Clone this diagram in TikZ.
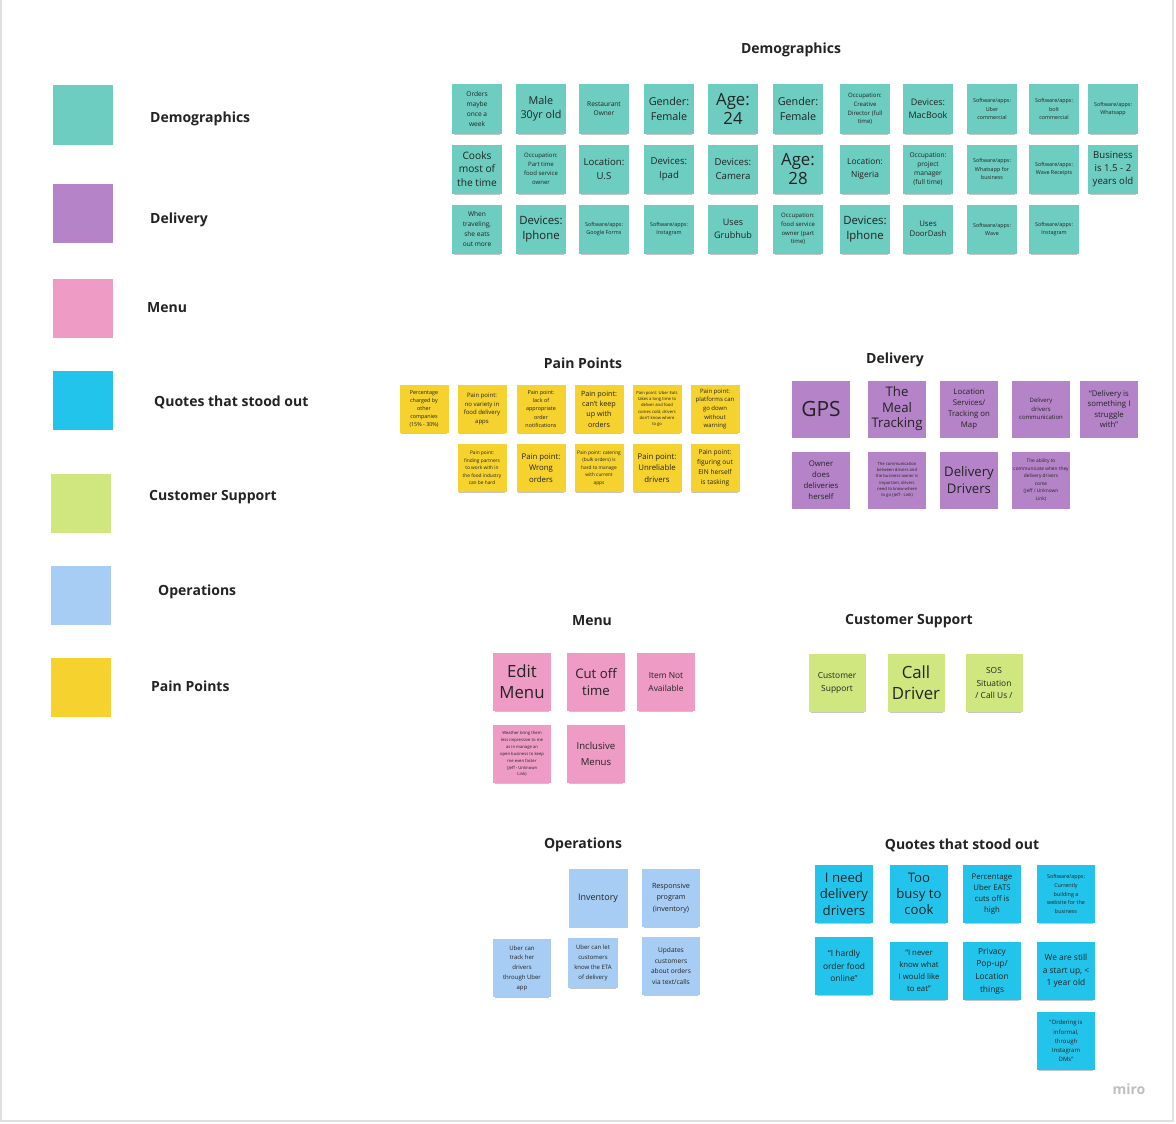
\documentclass[tikz,border=0pt]{standalone}
\usepackage{fontspec}
\setmainfont{Open Sans}
\usetikzlibrary{shadows}
\definecolor{demoC}{RGB}{108,205,192}
\definecolor{delivC}{RGB}{181,132,200}
\definecolor{menuC}{RGB}{238,155,197}
\definecolor{quoteC}{RGB}{35,196,235}
\definecolor{suppC}{RGB}{208,231,127}
\definecolor{opsC}{RGB}{168,205,244}
\definecolor{painC}{RGB}{246,210,46}
\definecolor{txtC}{RGB}{35,35,35}
\tikzset{
  fs/.style 2 args={/utils/exec={\pgfmathsetmacro\fsA{#1*1.2}\pgfmathsetmacro\fsB{#2*1.15}},
    font=\fontsize{\fsA}{\fsB}\selectfont},
  sticky/.style={draw=none, align=center, inner sep=1pt, text=txtC,
    general shadow={fill=black!70, opacity=0.32, shadow yshift=-3pt, shadow scale=0.93}},
  demo/.style={sticky, fill=demoC, minimum width=50pt, minimum height=49pt},
  pain/.style={sticky, fill=painC, minimum width=49pt, minimum height=48pt},
  deliv/.style={sticky, fill=delivC, minimum width=58pt, minimum height=57pt},
  menu/.style={sticky, fill=menuC, minimum width=58pt, minimum height=58pt},
  supp/.style={sticky, fill=suppC, minimum width=57pt, minimum height=58pt},
  ops/.style={sticky, fill=opsC, minimum width=58pt, minimum height=58pt},
  quote/.style={sticky, fill=quoteC, minimum width=58pt, minimum height=58pt},
  legsq/.style={draw=none, minimum width=60pt, minimum height=59pt,
    general shadow={fill=black!70, opacity=0.32, shadow yshift=-3pt, shadow scale=0.93}},
  leglab/.style={anchor=west, font=\fontsize{14}{16}\selectfont\bfseries, text=txtC, inner sep=0pt},
  sectitle/.style={font=\fontsize{14}{16}\selectfont\bfseries, text=txtC, inner sep=0pt},
}
\begin{document}
\begin{tikzpicture}[x=1pt,y=-1pt]
\useasboundingbox (0,0) rectangle (1176,1124);
\fill[white] (0,0) rectangle (1176,1124);
\draw[black!12, line width=1.5pt] (1,-2) -- (1,1121) -- (1173,1121) -- (1173,-2);

% Legend
\node[legsq, fill=demoC] (ld) at (83,115) {};
\node[leglab] (ldl) at (150,119) {Demographics};
\node[legsq, fill=delivC] (lv) at (83,213) {};
\node[leglab] (lvl) at (150,220) {Delivery};
\node[legsq, fill=menuC] (lm) at (83,308) {};
\node[leglab] (lml) at (147,308) {Menu};
\node[legsq, fill=quoteC] (lq) at (83,400) {};
\node[leglab] (lql) at (154,402) {Quotes that stood out};
\node[legsq, fill=suppC] (ls) at (81,503) {};
\node[leglab] (lsl) at (149,497) {Customer Support};
\node[legsq, fill=opsC] (lo) at (81,595) {};
\node[leglab] (lol) at (158,592) {Operations};
\node[legsq, fill=painC] (lp) at (81,687) {};
\node[leglab] (lpl) at (151,686) {Pain Points};

% Section titles
\node[sectitle] (tdemo) at (791,50) {Demographics};
\node[sectitle] (tpain) at (583,363) {Pain Points};
\node[sectitle] (tdeliv) at (895,360) {Delivery};
\node[sectitle] (tmenu) at (592,621) {Menu};
\node[sectitle] (tsupp) at (909,621) {Customer Support};
\node[sectitle] (tops) at (583,845) {Operations};
\node[sectitle] (tquote) at (962,845) {Quotes that stood out};

% Demographics row 1
\node[demo, fs={5.5}{8.5}] (d11) at (477,109) {Orders\\maybe\\once a\\week};
\node[demo, fs={9}{12}] (d12) at (541,109) {Male\\30yr old};
\node[demo, fs={5.5}{8}] (d13) at (604,109) {Restaurant\\Owner};
\node[demo, fs={9}{13}] (d14) at (669,109) {Gender:\\Female};
\node[demo, fs={14}{16}] (d15) at (733,109) {Age:\\24};
\node[demo, fs={9}{13}] (d16) at (798,109) {Gender:\\Female};
\node[demo, fs={5}{7.5}] (d17) at (865,109) {Occupation:\\Creative\\Director (full\\time)};
\node[demo, fs={7.5}{11}] (d18) at (928,109) {Devices:\\MacBook};
\node[demo, fs={4.5}{7}] (d19) at (992,109) {Software/apps:\\Uber\\commercial};
\node[demo, fs={4.5}{7}] (d110) at (1054,109) {Software/apps:\\bolt\\commercial};
\node[demo, fs={4.5}{7}] (d111) at (1113,109) {Software/apps:\\Whatsapp};
% Demographics row 2
\node[demo, fs={8.5}{12}] (d21) at (477,169) {Cooks\\most of\\the time};
\node[demo, fs={5}{8}] (d22) at (541,169) {Occupation:\\Part time\\food service\\owner};
\node[demo, fs={8}{12}] (d23) at (604,169) {Location:\\U.S};
\node[demo, fs={8}{12}] (d24) at (669,169) {Devices:\\Ipad};
\node[demo, fs={8}{12}] (d25) at (733,169) {Devices:\\Camera};
\node[demo, fs={14}{16}] (d26) at (798,169) {Age:\\28};
\node[demo, fs={7}{11}] (d27) at (865,169) {Location:\\Nigeria};
\node[demo, fs={5.5}{8}] (d28) at (928,169) {Occupation:\\project\\manager\\(full time)};
\node[demo, fs={4.5}{7}] (d29) at (992,169) {Software/apps:\\Whatsapp for\\business};
\node[demo, fs={4.5}{7}] (d210) at (1054,169) {Software/apps:\\Wave Receipts};
\node[demo, fs={8}{11}] (d211) at (1113,169) {Business\\is 1.5 - 2\\years old};
% Demographics row 3
\node[demo, fs={5.5}{8.5}] (d31) at (477,229) {When\\traveling,\\she eats\\out more};
\node[demo, fs={9.5}{13}] (d32) at (541,229) {Devices:\\Iphone};
\node[demo, fs={4.5}{7}] (d33) at (604,229) {Software/apps:\\Google Forms};
\node[demo, fs={4.5}{7}] (d34) at (669,229) {Software/apps:\\Instagram};
\node[demo, fs={7.5}{11}] (d35) at (733,229) {Uses\\Grubhub};
\node[demo, fs={5}{7.5}] (d36) at (798,229) {Occupation:\\food service\\owner (part\\time)};
\node[demo, fs={9.5}{13}] (d37) at (865,229) {Devices:\\Iphone};
\node[demo, fs={6.5}{9}] (d38) at (928,229) {Uses\\DoorDash};
\node[demo, fs={4.5}{7}] (d39) at (992,229) {Software/apps:\\Wave};
\node[demo, fs={4.5}{7}] (d310) at (1054,229) {Software/apps:\\Instagram};

% Pain points
\node[pain, fs={4.5}{7}] (p1) at (424,409) {Percentage\\charged by\\other\\companies\\(15\% - 30\%)};
\node[pain, fs={5}{7.5}] (p2) at (482,409) {Pain point:\\no variety in\\food delivery\\apps};
\node[pain, fs={4.5}{7}] (p3) at (541,409) {Pain point:\\lack of\\appropriate\\order\\notifications};
\node[pain, fs={6}{9}] (p4) at (599,409) {Pain point:\\can't keep\\up with\\orders};
\node[pain, fs={3.5}{5.5}] (p5) at (657,409) {Pain point: Uber Eats\\takes a long time to\\deliver and food\\comes cold, drivers\\don't know where\\to go};
\node[pain, fs={5}{7.5}] (p6) at (715,409) {Pain point:\\platforms can\\go down\\without\\warning};
\node[pain, fs={4}{6.5}] (p7) at (482,468) {Pain point:\\finding partners\\to work with in\\the food industry\\can be hard};
\node[pain, fs={6.5}{10}] (p8) at (541,468) {Pain point:\\Wrong\\orders};
\node[pain, fs={4}{6.5}] (p9) at (599,468) {Pain point: catering\\(bulk orders) is\\hard to manage\\with current\\apps};
\node[pain, fs={6.5}{10}] (p10) at (657,468) {Pain point:\\Unreliable\\drivers};
\node[pain, fs={5.5}{8.5}] (p11) at (715,468) {Pain point:\\figuring out\\EIN herself\\is tasking};

% Delivery
\node[deliv, fs={17.5}{19}] (v1) at (821,409) {GPS};
\node[deliv, fs={11}{13.5}] (v2) at (897,409) {The\\Meal\\Tracking};
\node[deliv, fs={6.5}{9.5}] (v3) at (969,409) {Location\\Services/\\Tracking on\\Map};
\node[deliv, fs={5}{7.5}] (v4) at (1041,409) {Delivery\\drivers\\communication};
\node[deliv, fs={6.5}{9}] (v5) at (1109,409) {“Delivery is\\something I\\struggle\\with”};
\node[deliv, fs={6.5}{9.5}] (v6) at (821,480) {Owner\\does\\deliveries\\herself};
\node[deliv, fs={3.5}{5.5}] (v7) at (897,480) {The communication\\between drivers and\\the business owner is\\important, drivers\\need to know where\\to go (Jeff - Link)};
\node[deliv, fs={11}{14}] (v8) at (969,480) {Delivery\\Drivers};
\node[deliv, fs={4}{6.5}] (v9) at (1041,480) {The ability to\\communicate when they\\delivery drivers\\come\\(Jeff / Unknown\\Link)};

% Menu
\node[menu, fs={14}{18}] (m1) at (522,682) {Edit\\Menu};
\node[menu, fs={11}{15}] (m2) at (596,682) {Cut off\\time};
\node[menu, fs={7}{11}] (m3) at (666,682) {Item Not\\Available};
\node[menu, fs={3.5}{6}] (m4) at (522,754) {Weather bring them\\less impressive to me\\as in manage an\\open business to keep\\me even faster\\(Jeff - Unknown\\Link)};
\node[menu, fs={8}{14}] (m5) at (596,754) {Inclusive\\Menus};

% Customer Support
\node[supp, fs={7}{11}] (c1) at (837,683) {Customer\\Support};
\node[supp, fs={14}{18}] (c2) at (916,683) {Call\\Driver};
\node[supp, fs={7}{11}] (c3) at (994,683) {SOS\\Situation\\/ Call Us /};

% Operations
\node[ops, fs={7.5}{11}, minimum width=59pt, minimum height=59pt] (o1) at (598,898) {Inventory};
\node[ops, fs={6}{10}] (o2) at (671,898) {Responsive\\program\\(inventory)};
\node[ops, fs={5}{8.5}] (o3) at (522,968) {Uber can\\track her\\drivers\\through Uber\\app};
\node[ops, fs={5}{8.5}, minimum width=50pt, minimum height=50pt] (o4) at (593,963) {Uber can let\\customers\\know the ETA\\of delivery};
\node[ops, fs={5.5}{9}] (o5) at (671,966) {Updates\\customers\\about orders\\via text/calls};

% Quotes
\node[quote, fs={11}{14}] (q1) at (844,894) {I need\\delivery\\drivers};
\node[quote, fs={11}{14}] (q2) at (919,894) {Too\\busy to\\cook};
\node[quote, fs={6.5}{9.5}] (q3) at (992,894) {Percentage\\Uber EATS\\cuts off is\\high};
\node[quote, fs={4.5}{7.5}] (q4) at (1066,894) {Software/apps:\\Currently\\building a\\website for the\\business};
\node[quote, fs={7}{11}] (q5) at (844,966) {“I hardly\\order food\\online”};
\node[quote, fs={6.5}{10.5}] (q6) at (919,971) {“I never\\know what\\I would like\\to eat”};
\node[quote, fs={7}{11}] (q7) at (992,971) {Privacy\\Pop-up/\\Location\\things};
\node[quote, fs={7}{11}] (q8) at (1066,971) {We are still\\a start up, <\\1 year old};
\node[quote, fs={5}{8}] (q9) at (1066,1041) {“Ordering is\\informal,\\through\\Instagram\\DMs”};

% miro logo
\node[font=\fontsize{14}{16}\selectfont\bfseries, text=black!25, inner sep=0pt] (logo) at (1129,1089) {miro};
\end{tikzpicture}
\end{document}
